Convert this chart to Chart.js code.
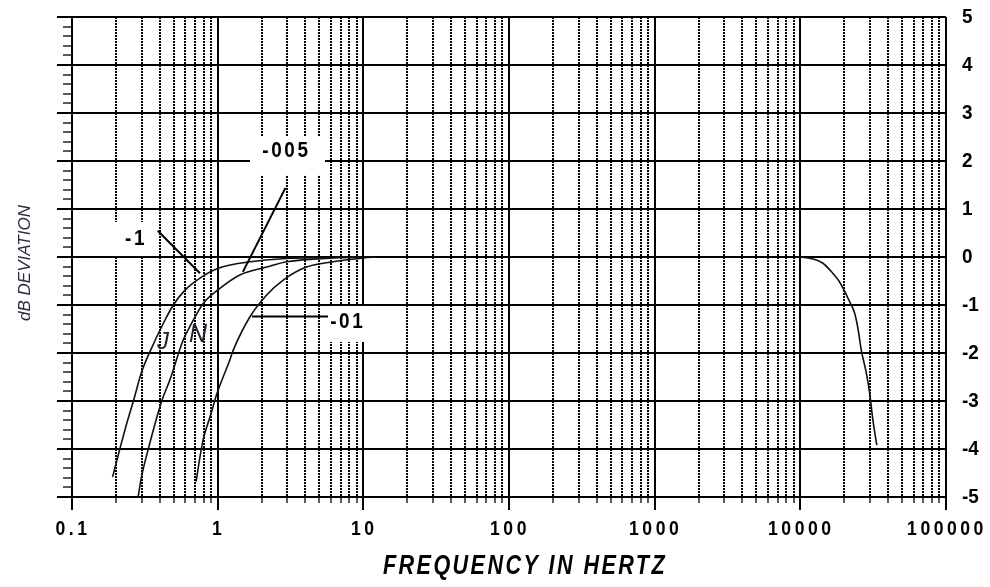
<!DOCTYPE html>
<html>
<head>
<meta charset="utf-8">
<script src="https://cdn.jsdelivr.net/npm/chart.js@4.4.1/dist/chart.umd.min.js"></script>
<style>
  html, body { margin: 0; padding: 0; background: #fff; }
  #wrap { width: 990px; height: 587px; }
</style>
</head>
<body>
<div id="wrap"><canvas id="chart" width="990" height="587"></canvas></div>
<script>
// axis ticks
const xMajor = [0.1, 1, 10, 100, 1000, 10000, 100000];
const xLabels = ['0.1', '1', '10', '100', '1000', '10000', '100000'];
const yMajor = [5, 4, 3, 2, 1, 0, -1, -2, -3, -4, -5];
const yLabels = ['5', '4', '3', '2', '1', '0', '-1', '-2', '-3', '-4', '-5'];

// curve "-1"
const freqA = [0.19, 0.213, 0.241, 0.264, 0.30, 0.343, 0.424, 0.496, 0.597, 0.756, 1.0, 1.67, 2.98, 5, 10];
const dbA = [-4.58, -4.0, -3.4, -3.0, -2.4, -1.97, -1.38, -1.0, -0.69, -0.44, -0.24, -0.10, -0.03, -0.01, 0];
// curve "-005"
const freqB = [0.285, 0.30, 0.334, 0.413, 0.47, 0.58, 0.663, 0.80, 1.0, 1.42, 2.17, 2.98, 6.2, 12];
const dbB = [-4.98, -4.58, -4.0, -3.0, -2.56, -1.73, -1.38, -0.96, -0.69, -0.375, -0.21, -0.10, -0.02, 0];
// curve "-01"
const freqC = [0.71, 0.794, 0.887, 0.99, 1.21, 1.28, 1.67, 2.17, 2.82, 4.07, 6.2, 10, 12.3];
const dbC = [-4.68, -3.81, -3.33, -2.84, -2.15, -1.94, -1.24, -0.79, -0.48, -0.21, -0.10, -0.02, 0];
// high end roll-off
const freqD = [10000, 12200, 14300, 16700, 18600, 21800, 23600, 24900, 26200, 28400, 29900, 31500, 33500];
const dbD = [0, -0.04, -0.13, -0.34, -0.52, -0.93, -1.17, -1.5, -1.94, -2.42, -2.83, -3.4, -3.92];

// callouts, in data units (freq, dB)
const noteText = ['-1', '-005', '-01'];
const noteAt = [[0.271, 0.375], [2.92, 2.2], [7.69, -1.354]];
const noteBox = [[0.1824, 0.3715, 0.73, 0.02], [1.667, 5.46, 2.5, 1.71], [5.20, 11.47, -1.02, -1.77]];
const leadFrom = [[0.3877, 0.548], [2.92, 1.44], [5.72, -1.24]];
const leadTo = [[0.756, -0.34], [1.49, -0.31], [1.72, -1.24]];
const markText = ['J', 'N'];
const markAt = [[0.4217, -1.77], [0.733, -1.62]];
const markSize = [24, 25];

const FONT = '"Liberation Sans", Arial, sans-serif';

function pts(fs, ds) {
    return fs.map((f, i) => ({ x: f, y: ds[i] }));
}

function minorX() {
    const out = [];
    for (let d = 0; d < xMajor.length - 1; d++) {
        for (let m = 2; m <= 9; m++) out.push(xMajor[d] * m);
    }
    return out;
}

// condensed text: squeeze horizontally around the anchor
function squeezed(ctx, text, px, py, sx) {
    ctx.save();
    ctx.translate(px, py);
    ctx.scale(sx, 1);
    ctx.fillText(text, 0, 0);
    ctx.restore();
}

const paper = {
    id: 'paper',
    beforeDatasetsDraw(chart) {
        const { ctx, chartArea: a, scales: { x, y } } = chart;
        ctx.save();
        ctx.strokeStyle = '#000';

        // dotted minor verticals
        ctx.lineWidth = 2;
        ctx.setLineDash([2, 1]);
        minorX().forEach(v => {
            const px = Math.round(x.getPixelForValue(v));
            ctx.beginPath();
            ctx.moveTo(px, a.top);
            ctx.lineTo(px, a.bottom);
            ctx.stroke();
        });
        ctx.setLineDash([]);

        // minor ticks under the axis
        ctx.lineWidth = 1.3;
        minorX().forEach(v => {
            const px = Math.round(x.getPixelForValue(v));
            ctx.beginPath();
            ctx.moveTo(px, a.bottom);
            ctx.lineTo(px, a.bottom + 6);
            ctx.stroke();
        });

        // minor ticks on the left, every 0.2 dB
        for (let k = -25; k <= 25; k++) {
            if (k % 5 === 0) continue;
            const py = Math.round(y.getPixelForValue(k / 5));
            ctx.beginPath();
            ctx.moveTo(a.left - 9, py);
            ctx.lineTo(a.left, py);
            ctx.stroke();
        }

        // solid horizontals
        ctx.lineWidth = 2;
        yMajor.forEach(v => {
            const py = Math.round(y.getPixelForValue(v));
            ctx.beginPath();
            ctx.moveTo(a.left - 15, py);
            ctx.lineTo(a.right, py);
            ctx.stroke();
        });

        // decade verticals
        xMajor.forEach(v => {
            const px = Math.round(x.getPixelForValue(v));
            ctx.beginPath();
            ctx.moveTo(px, a.top);
            ctx.lineTo(px, a.bottom + 13);
            ctx.stroke();
        });

        // white boxes behind the callouts
        ctx.fillStyle = '#fff';
        noteBox.forEach(b => {
            const x0 = x.getPixelForValue(b[0]), x1 = x.getPixelForValue(b[1]);
            const y0 = y.getPixelForValue(b[2]), y1 = y.getPixelForValue(b[3]);
            ctx.fillRect(x0, y0, x1 - x0, y1 - y0);
        });
        ctx.restore();
    },
    afterDatasetsDraw(chart) {
        const { ctx, scales: { x, y } } = chart;
        ctx.save();
        ctx.strokeStyle = '#000';
        ctx.lineWidth = 2;
        leadFrom.forEach((p, i) => {
            ctx.beginPath();
            ctx.moveTo(x.getPixelForValue(p[0]), y.getPixelForValue(p[1]));
            ctx.lineTo(x.getPixelForValue(leadTo[i][0]), y.getPixelForValue(leadTo[i][1]));
            ctx.stroke();
        });

        ctx.fillStyle = '#000';
        ctx.textAlign = 'center';
        ctx.textBaseline = 'middle';
        ctx.font = 'bold 22px ' + FONT;
        ctx.letterSpacing = '3px';
        noteText.forEach((t, i) => {
            squeezed(ctx, t, x.getPixelForValue(noteAt[i][0]) + 1, y.getPixelForValue(noteAt[i][1]), 0.86);
        });

        ctx.letterSpacing = '0px';
        ctx.fillStyle = '#1e2130';
        markText.forEach((t, i) => {
            ctx.font = 'italic ' + markSize[i] + 'px ' + FONT;
            ctx.fillText(t, x.getPixelForValue(markAt[i][0]), y.getPixelForValue(markAt[i][1]));
        });
        ctx.restore();
    },
    afterDraw(chart) {
        const { ctx, chartArea: a, scales: { x, y } } = chart;
        ctx.save();
        ctx.fillStyle = '#000';
        ctx.textBaseline = 'middle';

        // right side dB labels
        ctx.textAlign = 'left';
        ctx.font = 'bold 21px ' + FONT;
        yMajor.forEach((v, i) => {
            squeezed(ctx, yLabels[i], a.right + 16, y.getPixelForValue(v), 0.9);
        });

        // frequency labels
        ctx.textAlign = 'center';
        ctx.font = 'bold 20px ' + FONT;
        ctx.letterSpacing = '4px';
        xMajor.forEach((v, i) => {
            squeezed(ctx, xLabels[i], x.getPixelForValue(v) + 1, a.bottom + 32, 0.88);
        });

        // x title, condensed and spaced
        ctx.font = 'italic bold 27px ' + FONT;
        ctx.letterSpacing = '3px';
        squeezed(ctx, 'FREQUENCY IN HERTZ', 525, a.bottom + 70, 0.8);

        // y title
        ctx.save();
        ctx.translate(25, 263);
        ctx.rotate(-Math.PI / 2);
        ctx.letterSpacing = '0px';
        ctx.fillStyle = '#2b2e3a';
        ctx.font = 'italic 17px ' + FONT;
        ctx.fillText('dB DEVIATION', 0, 0);
        ctx.restore();

        ctx.restore();
    }
};

const curveStyle = {
    showLine: true, pointRadius: 0, borderColor: '#111', borderWidth: 1.6,
    cubicInterpolationMode: 'monotone', fill: false
};

new Chart(document.getElementById('chart').getContext('2d'), {
    type: 'scatter',
    data: {
        datasets: [
            { label: '-1', data: pts(freqA, dbA), ...curveStyle },
            { label: '-005', data: pts(freqB, dbB), ...curveStyle },
            { label: '-01', data: pts(freqC, dbC), ...curveStyle },
            { label: 'HF', data: pts(freqD, dbD), ...curveStyle }
        ]
    },
    options: {
        responsive: false,
        animation: false,
        layout: { padding: { left: 72, top: 17, right: 0, bottom: 0 } },
        plugins: { legend: { display: false }, tooltip: { enabled: false } },
        scales: {
            x: {
                type: 'logarithmic',
                min: 0.1,
                max: 100000,
                ticks: { display: false },
                grid: { display: false },
                border: { display: false },
                afterFit: s => { s.height = 90; }
            },
            y: {
                position: 'right',
                min: -5,
                max: 5,
                ticks: { display: false },
                grid: { display: false },
                border: { display: false },
                afterFit: s => { s.width = 44; }
            }
        }
    },
    plugins: [paper]
});
</script>
</body>
</html>
